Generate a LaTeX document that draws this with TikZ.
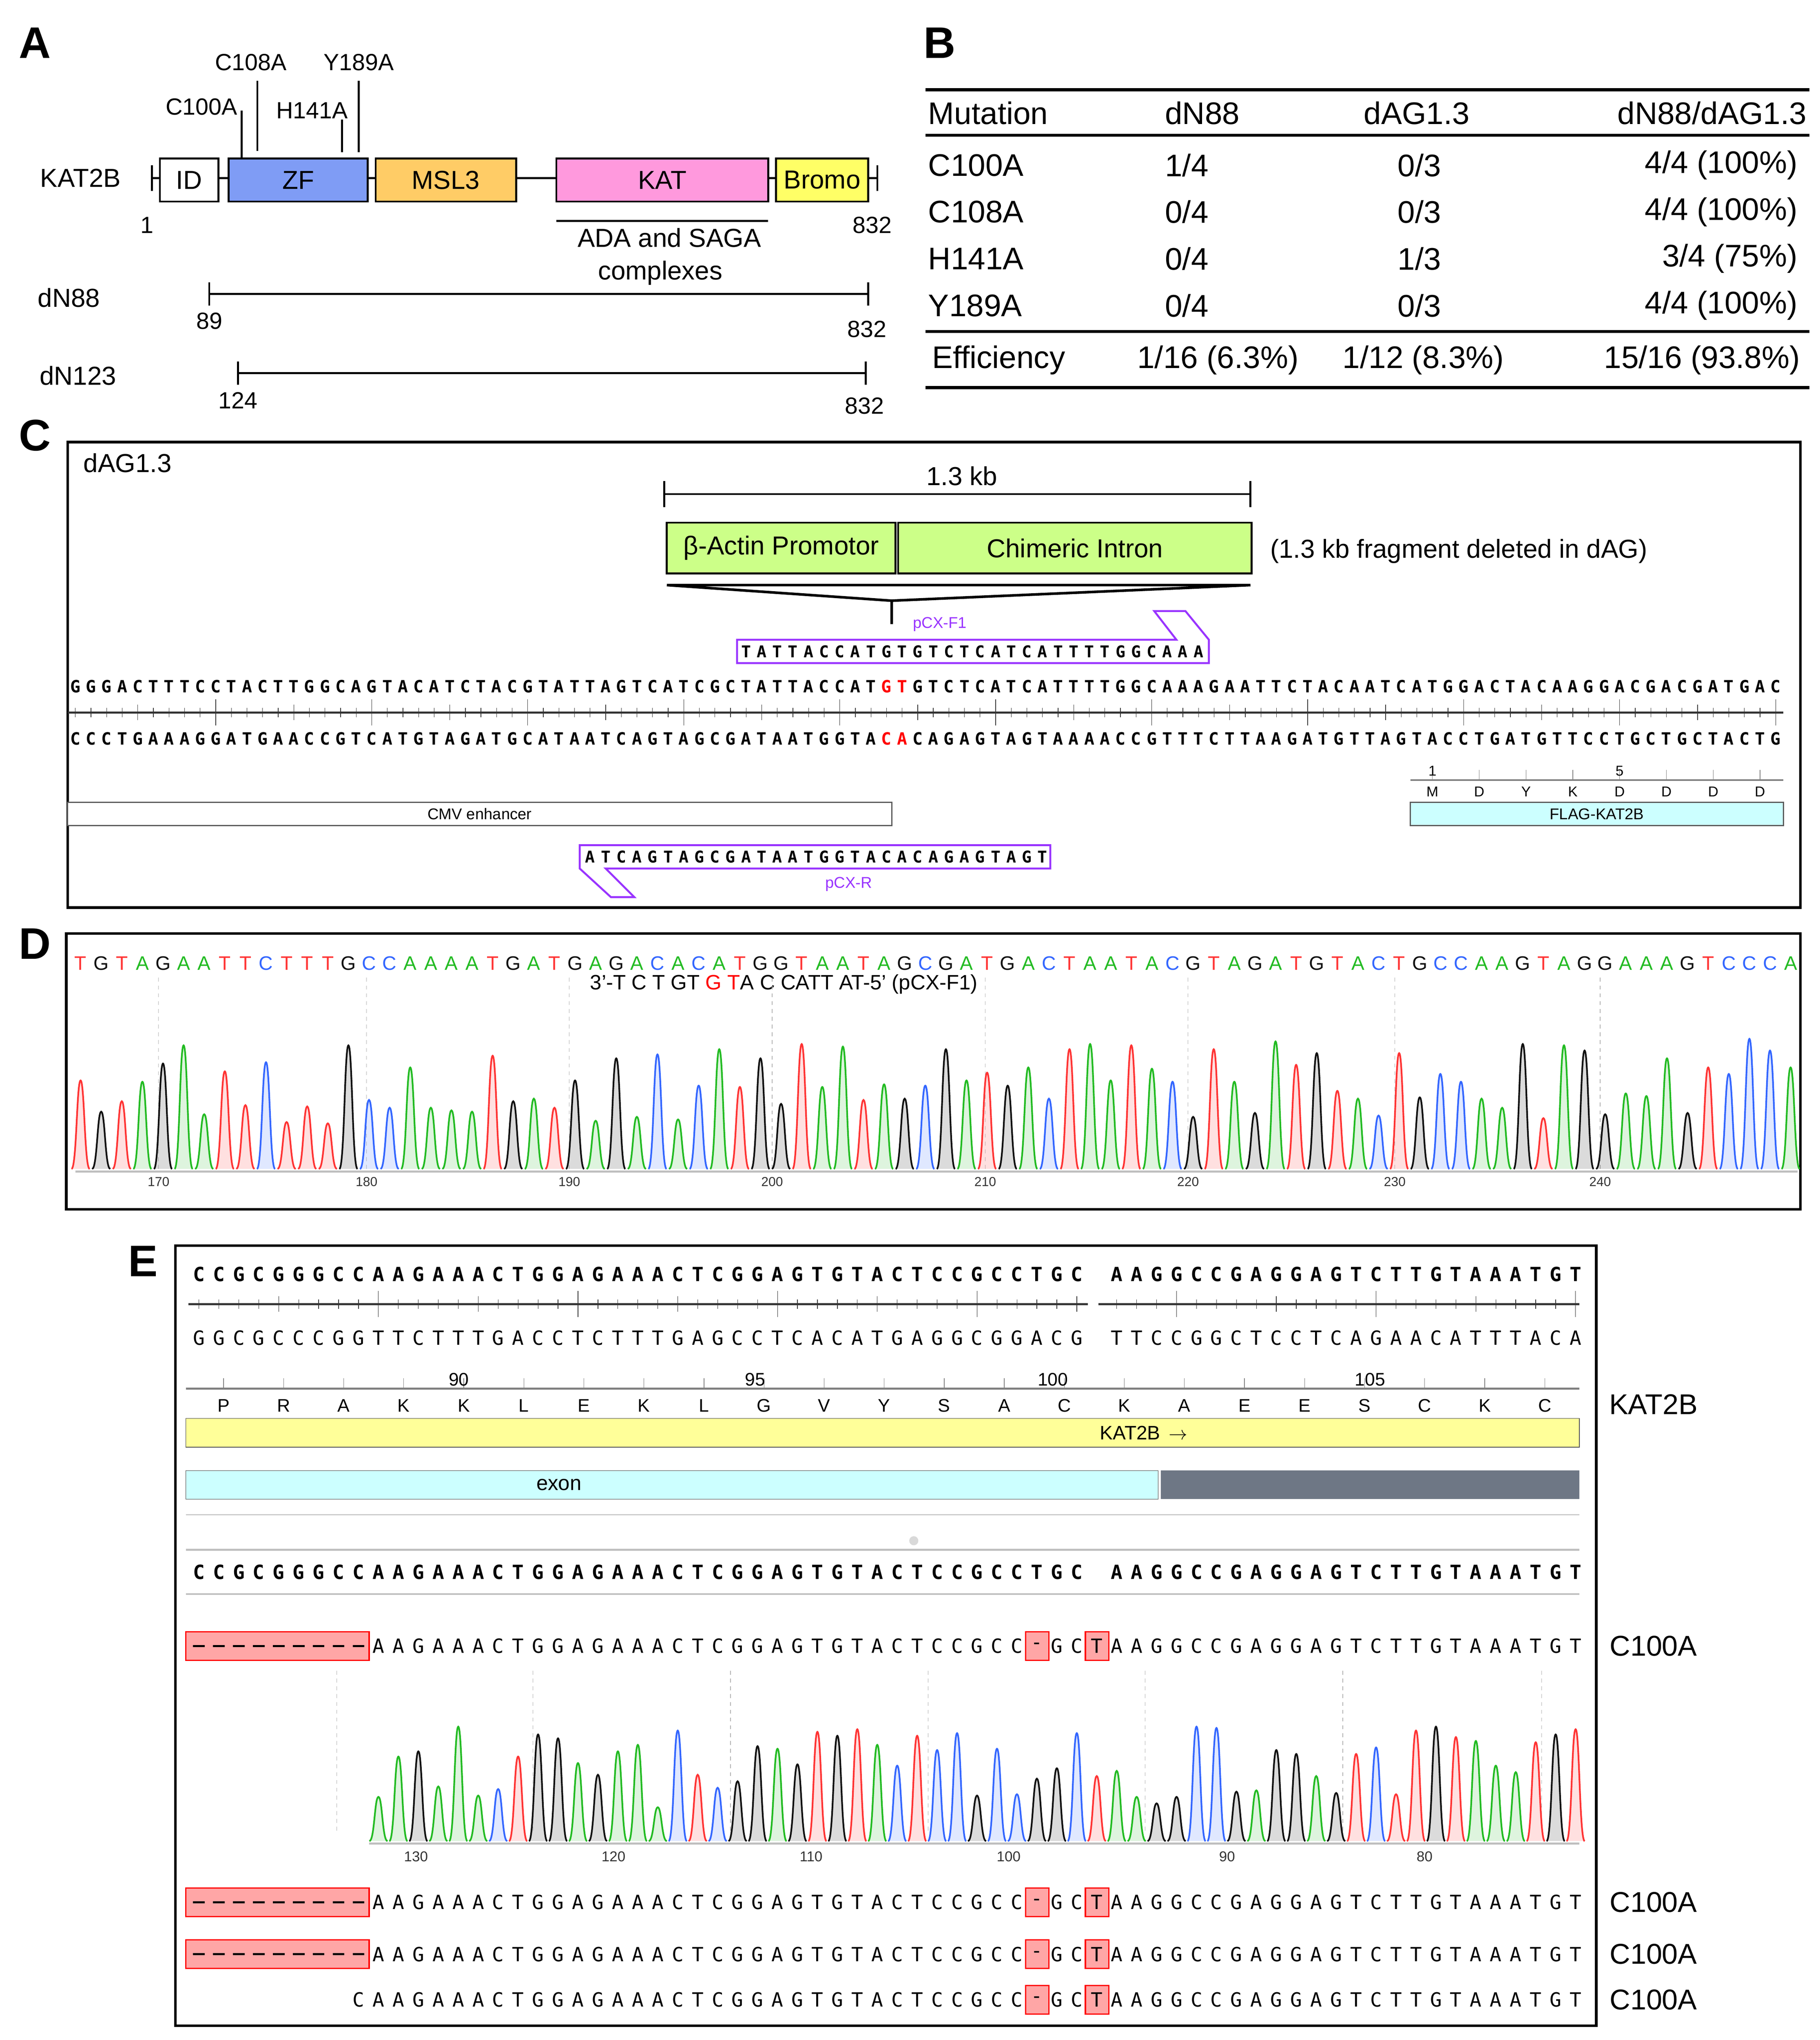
\documentclass[tikz,border=0pt]{standalone}
\usepackage{fontspec}
\setmainfont{Liberation Sans}
\setmonofont{DejaVu Sans Mono}
\definecolor{zf}{HTML}{7F9CF5}
\definecolor{msl}{HTML}{FFCC66}
\definecolor{kat}{HTML}{FF99DD}
\definecolor{bromo}{HTML}{FFFF66}
\definecolor{grn}{HTML}{CCFF88}
\definecolor{prm}{HTML}{9933FF}
\definecolor{cy}{HTML}{CCFFFF}
\definecolor{yel}{HTML}{FFFF99}
\definecolor{slate}{HTML}{6E7785}
\definecolor{pkA}{HTML}{22BB22}
\definecolor{pkC}{HTML}{3366FF}
\definecolor{pkG}{HTML}{111111}
\definecolor{pkT}{HTML}{FF3333}
\makeatletter
\newcommand\seqat[5]{\pgfmathsetmacro\sq@x{#1}\def\sq@y{#2}\def\sq@p{#3}\def\sq@f{#4}\sq@loop#5\relax}
\def\sq@loop#1{\ifx#1\relax\else\sq@char{#1}\expandafter\sq@loop\fi}
\def\sq@char#1{\if#1_\else\node[text=\csname sqc@#1\endcsname,inner sep=0,anchor=center] at (\sq@x,\sq@y){\sq@f\uppercase{#1}};\fi\pgfmathsetmacro\sq@x{\sq@x+\sq@p}}
\newcommand\sqmono{\def\sqc@A{black}\def\sqc@C{black}\def\sqc@G{black}\def\sqc@T{black}}
\newcommand\sqcolor{\def\sqc@A{pkA}\def\sqc@C{pkC}\def\sqc@G{pkG}\def\sqc@T{pkT}}
\def\sqc@a{red}\def\sqc@c{red}\def\sqc@g{red}\def\sqc@t{red}
\expandafter\def\csname sqc@-\endcsname{black}
\makeatother
\newcommand\peak[4]{%
 \fill[#4,opacity=.15] (#1-7,#2) .. controls (#1-3,#2) and (#1-3,#2-#3) .. (#1,#2-#3) .. controls (#1+3,#2-#3) and (#1+3,#2) .. (#1+7,#2) -- cycle;
 \draw[#4,line width=1.3pt] (#1-7,#2) .. controls (#1-3,#2) and (#1-3,#2-#3) .. (#1,#2-#3) .. controls (#1+3,#2-#3) and (#1+3,#2) .. (#1+7,#2);}
\newcommand\fs[1]{\fontsize{#1}{#1}\selectfont}
\tikzset{
 lbl/.style={font=\fs{34}\bfseries,inner sep=0},
 dom/.style={draw,line width=1.5pt,minimum height=33pt,inner sep=0,font=\fs{20}},
 txt/.style={inner sep=0,font=\fs{18}},
 tb/.style={inner sep=0,font=\fs{24}},
 panel/.style={draw,line width=2pt},
 prim/.style={draw=prm,line width=1.5pt},
 small/.style={inner sep=0,font=\fs{11}},
 feat/.style={draw=gray!70!black,line width=1pt},
 red box/.style={draw=red,fill=red!35,line width=1pt},
 gapdash/.style={dash pattern=on 9pt off 6.35pt,line width=1.5pt},
}
\begin{document}
\begin{tikzpicture}[x=1pt,y=-1pt]
\useasboundingbox[fill=white] (0,0) rectangle (1400,1569);
% ---------------- A
\node[lbl] (LA) at (27,33) {A};
\node[txt,font=\fs{20}] (kat2b) at (62,137) {KAT2B};
\draw[line width=1.5pt] (117,137) -- (675,137);
\draw[line width=1.5pt] (117,127) -- (117,147) (675,127) -- (675,147);
\node[dom,fill=white,minimum width=45pt] (id) at (145.5,138.5) {ID};
\node[dom,fill=zf,minimum width=107pt] (zfb) at (229.5,138.5) {ZF};
\node[dom,fill=msl,minimum width=108pt] (msl3) at (343,138.5) {MSL3};
\node[dom,fill=kat,minimum width=163pt] (katb) at (509.5,138.5) {KAT};
\node[dom,fill=bromo,minimum width=71pt] (brb) at (632.5,138.5) {Bromo};
\draw[line width=1.5pt] (186,85) -- (186,122);
\draw[line width=1.5pt] (198,62) -- (198,116);
\draw[line width=1.5pt] (263,92) -- (263,117);
\draw[line width=1.5pt] (276,62) -- (276,117);
\node[txt] (m1) at (155,82) {C100A};
\node[txt] (m2) at (193,48) {C108A};
\node[txt] (m3) at (240,85) {H141A};
\node[txt] (m4) at (276,48) {Y189A};
\node[txt] (n1) at (113,173) {1};
\node[txt] (n832) at (671,173) {832};
\draw[line width=1.5pt] (428,170) -- (591,170);
\node[txt,font=\fs{20}] (ada) at (515,183) {ADA and SAGA};
\node[txt,font=\fs{20}] (cplx) at (508,210) {complexes};
\node[txt,font=\fs{20}] (dn88) at (53,229) {dN88};
\draw[line width=1.5pt] (161,226) -- (668,226) (161,217) -- (161,235) (668,217) -- (668,235);
\node[txt] (a89) at (161,247) {89};
\node[txt] (a832b) at (667,253) {832};
\node[txt,font=\fs{20}] (dn123) at (60,289) {dN123};
\draw[line width=1.5pt] (183,287) -- (666,287) (183,278) -- (183,296) (666,278) -- (666,296);
\node[txt] (a124) at (183,308) {124};
\node[txt] (a832c) at (665,312) {832};
% ---------------- B
\node[lbl] (LB) at (723,33) {B};
\draw[line width=2.5pt] (712,69) -- (1392,69);
\draw[line width=2pt] (712,104) -- (1392,104);
\draw[line width=2pt] (712,255) -- (1392,255);
\draw[line width=2.5pt] (712,298) -- (1392,298);
\node[tb,anchor=west] (h1) at (714,87) {Mutation};
\node[tb] (h2) at (925,87) {dN88};
\node[tb] (h3) at (1090,87) {dAG1.3};
\node[tb,anchor=east] (h4) at (1390,87) {dN88/dAG1.3};
\foreach \m/\a/\b/\c [count=\i] in {C100A/1\slash4/0\slash3/4\slash4 (100\%),C108A/0\slash4/0\slash3/4\slash4 (100\%),H141A/0\slash4/1\slash3/3\slash4 (75\%),Y189A/0\slash4/0\slash3/4\slash4 (100\%)}{
 \node[tb,anchor=west] (r\i a) at (714,91+36*\i) {\m};
 \node[tb] (r\i b) at (913,91+36*\i) {\a};
 \node[tb] (r\i c) at (1092,91+36*\i) {\b};
 \node[tb,anchor=east] (r\i d) at (1383,91+36*\i) {\c};
}
\node[tb,anchor=west] (eff) at (717,277) {Efficiency};
\node[tb] (e1) at (937,277) {1/16 (6.3\%)};
\node[tb] (e2) at (1095,277) {1/12 (8.3\%)};
\node[tb,anchor=east] (e3) at (1385,277) {15/16 (93.8\%)};
% ---------------- C
\node[lbl] (LC) at (27,335) {C};
\draw[panel] (52,340) rectangle (1385,698);
\node[txt,font=\fs{20},anchor=west] (dag) at (64,356) {dAG1.3};
\draw[line width=1.5pt] (511,380) -- (962,380) (511,370) -- (511,390) (962,370) -- (962,390);
\node[txt,font=\fs{20}] (kb) at (740,366) {1.3 kb};
\node[dom,fill=grn,minimum width=176pt,minimum height=39pt] (bact) at (601,421.5) {β-Actin Promotor};
\node[dom,fill=grn,minimum width=272pt,minimum height=39pt] (chim) at (827,421.5) {Chimeric Intron};
\node[txt,font=\fs{20},anchor=west] (del) at (977,424) {(1.3 kb fragment deleted in dAG)};
\draw[line width=2pt] (513,450) -- (962,450) (513,450) -- (686,462) -- (962,450) (686,462) -- (686,480);
\node[small,text=prm,font=\fs{12}] (pf) at (723,480) {pCX-F1};
\draw[prim] (567,492) -- (905,492) -- (888,470) -- (912,470) -- (930,492) -- (930,510) -- (567,510) -- cycle;
\sqmono
\seqat{574}{501}{12}{\fs{12.5}\ttfamily\bfseries}{TATTACCATGTGTCTCATCATTTTGGCAAA}
\seqat{58}{528}{12}{\fs{13}\ttfamily\bfseries}{GGGACTTTCCTACTTGGCAGTACATCTACGTATTAGTCATCGCTATTACCATgtGTCTCATCATTTTGGCAAAGAATTCTACAATCATGGACTACAAGGACGACGATGAC}
\draw[line width=1.5pt,gray!40!black] (52,548) -- (1372,548);
\foreach \k in {0,...,109}{\pgfmathsetmacro\tl{ifthenelse(mod(\k+1,10)==0,10,ifthenelse(mod(\k+1,5)==0,6,3.5))}
 \pgfmathsetmacro\tx{58+12*\k}
 \draw[gray!40!black] (\tx,548-\tl) -- (\tx,548+\tl);}
\seqat{58}{568}{12}{\fs{13}\ttfamily\bfseries}{CCCTGAAAGGATGAACCGTCATGTAGATGCATAATCAGTAGCGATAATGGTAcaCAGAGTAGTAAAACCGTTTCTTAAGATGTTAGTACCTGATGTTCCTGCTGCTACTG}
\draw[line width=1.5pt,gray] (1085,600) -- (1372,600);
\foreach \aa [count=\i] in {M,D,Y,K,D,D,D,D}{
 \pgfmathsetmacro\tx{1066+36*\i}
 \draw[gray] (\tx,592) -- (\tx,600);
 \node[small] (caa\i) at (\tx,609) {\aa};}
\node[small] (c1) at (1102,593) {1};
\node[small] (c5) at (1246,593) {5};
\node[feat,fill=white,minimum width=634pt,minimum height=18pt,inner sep=0,font=\fs{12}] (cmv) at (369,626) {CMV enhancer};
\node[feat,fill=cy,minimum width=287pt,minimum height=18pt,inner sep=0,font=\fs{12}] (flag) at (1228.5,626) {FLAG-KAT2B};
\draw[prim] (446,650) -- (808,650) -- (808,668) -- (466,668) -- (488,690) -- (470,690) -- (446,668) -- cycle;
\seqat{454}{659}{12}{\fs{12.5}\ttfamily\bfseries}{ATCAGTAGCGATAATGGTACACAGAGTAGT}
\node[small,text=prm,font=\fs{12}] (pr) at (653,680) {pCX-R};
% ---------------- D
\node[lbl] (LD) at (27,726) {D};
\draw[panel] (51,718) rectangle (1385,930);
\sqcolor
\seqat{62}{741}{15.85}{\fs{15}}{TGTAGAATTCTTTGCCAAAATGATGAGACACATGGTAATAGCGATGACTAATACGTAGATGTACTGCCAAGTAGGAAAGTCCCA}
\node[txt,font=\fs{16}] (f1) at (603,757) {3'-T C T GT \textcolor{red}{G T}A C CATT AT-5' (pCX-F1)};
\foreach \x/\n in {122/170,282/180,438/190,594/200,758/210,914/220,1073/230,1231/240}{
 \draw[gray!60,dashed] (\x,752) -- (\x,900);
 \node[small,text=gray!40!black,font=\fs{10}] at (\x,909) {\n};}
\draw[gray!50,line width=1.5pt] (58,901) -- (1383,901);
\pgfmathsetseed{11}
\foreach \b [count=\i] in {T,G,T,A,G,A,A,T,T,C,T,T,T,G,C,C,A,A,A,A,T,G,A,T,G,A,G,A,C,A,C,A,T,G,G,T,A,A,T,A,G,C,G,A,T,G,A,C,T,A,A,T,A,C,G,T,A,G,A,T,G,T,A,C,T,G,C,C,A,A,G,T,A,G,G,A,A,A,G,T,C,C,C,A}{
 \pgfmathrandominteger\h{35}{100}
 \pgfmathsetmacro\px{62+(\i-1)*15.85}
 \peak{\px}{899}{\h}{pk\b}}
% ---------------- E
\node[lbl] (LE) at (110,970) {E};
\draw[panel] (135,958) rectangle (1228,1558);
\sqmono
\seqat{153}{980}{15.35}{\fs{15}\ttfamily\bfseries}{CCGCGGGCCAAGAAACTGGAGAAACTCGGAGTGTACTCCGCCTGC_AAGGCCGAGGAGTCTTGTAAATGT}
\draw[line width=1.5pt,gray!40!black] (145,1003) -- (837,1003) (845,1003) -- (1215,1003);
\foreach \k in {0,...,69}{\ifnum\k=45\else\pgfmathsetmacro\tl{ifthenelse(mod(\k+1,10)==0,10,ifthenelse(mod(\k+1,5)==0,6,3.5))}
 \pgfmathsetmacro\tx{153+15.35*\k}
 \draw[gray!40!black] (\tx,1003-\tl) -- (\tx,1003+\tl);\fi}
\seqat{153}{1029}{15.35}{\fs{15}\ttfamily}{GGCGCCCGGTTCTTTGACCTCTTTGAGCCTCACATGAGGCGGACG_TTCCGGCTCCTCAGAACATTTACA}
\draw[line width=1.5pt,gray] (143,1068) -- (1215,1068);
\foreach \aa [count=\i] in {P,R,A,K,K,L,E,K,L,G,V,Y,S,A,C,K,A,E,E,S,C,K,C}{
 \pgfmathsetmacro\ax{172+(\i-1)*46.2}
 \draw[gray] (\ax,1060) -- (\ax,1068);
 \node[small,font=\fs{14}] (eaa\i) at (\ax,1081) {\aa};}
\foreach \x/\n in {353/90,581/95,810/100,1054/105}{\node[small,font=\fs{14}] at (\x,1061) {\n};}
\node[draw=gray!60!black,fill=yel,minimum width=1072pt,minimum height=22pt,inner sep=0] (yb) at (679,1102) {};
\node[small,font=\fs{15}] (kl) at (880,1102) {KAT2B\, $\rightarrow$};
\node[txt,font=\fs{22}] (kat2bE) at (1272,1080) {KAT2B};
\node[draw=gray!60!black,fill=cy,minimum width=748pt,minimum height=22pt,inner sep=0,font=\fs{16}] (exon) at (517,1142) {};
\node[small,font=\fs{16}] (exl) at (430,1142) {exon};
\node[fill=slate,minimum width=322pt,minimum height=22pt,inner sep=0] (ex2) at (1054,1142) {};
\draw[gray!40,line width=1pt] (143,1165) -- (1215,1165);
\fill[gray!30] (703,1185) circle (3.5);
\draw[gray!50,line width=1.5pt] (143,1192) -- (1215,1192);
\seqat{153}{1209}{15.35}{\fs{15}\ttfamily\bfseries}{CCGCGGGCCAAGAAACTGGAGAAACTCGGAGTGTACTCCGCCTGC_AAGGCCGAGGAGTCTTGTAAATGT}
\draw[gray!50,line width=1.5pt] (143,1226) -- (1215,1226);
\foreach \y [count=\r] in {1266,1463,1503}{
 \draw[red box] (143,\y-11) rectangle (284,\y+11);
 \draw[red box] (789,\y-11) rectangle (807,\y+11);
 \draw[red box] (835,\y-11) rectangle (853,\y+11);
 \draw[gapdash] (148.5,\y) -- (282,\y);
 \seqat{153}{\y}{15.35}{\fs{15}\ttfamily}{_________AAGAAACTGGAGAAACTCGGAGTGTACTCCGCC-GCTAAGGCCGAGGAGTCTTGTAAATGT}
 \node[txt,font=\fs{22}] (cl\r) at (1272,\y) {C100A};}
\draw[red box] (789,1527) rectangle (807,1549);
\draw[red box] (835,1527) rectangle (853,1549);
\seqat{153}{1538}{15.35}{\fs{15}\ttfamily}{________CAAGAAACTGGAGAAACTCGGAGTGTACTCCGCC-GCTAAGGCCGAGGAGTCTTGTAAATGT}
\node[txt,font=\fs{22}] (cl4) at (1272,1538) {C100A};
\foreach \x in {259,410,562,714,881,1033,1186}{\draw[gray!60,dashed] (\x,1285) -- (\x,1410);}
\foreach \x/\n in {320/130,472/120,624/110,776/100,944/90,1096/80}{\node[small,text=gray!40!black,font=\fs{11}] at (\x,1428) {\n};}
\draw[gray!50,line width=1.5pt] (284,1418) -- (1215,1418);
\pgfmathsetseed{5}
\foreach \b [count=\i] in {A,A,G,A,A,A,C,T,G,G,A,G,A,A,A,C,T,C,G,G,A,G,T,G,T,A,C,T,C,C,G,C,C,G,G,C,T,A,A,G,G,C,C,G,A,G,G,A,G,T,C,T,T,G,T,A,A,A,T,G,T}{
 \pgfmathrandominteger\h{25}{88}
 \pgfmathsetmacro\px{153+(\i+8)*15.35}
 \peak{\px}{1416}{\h}{pk\b}}
\end{tikzpicture}
\end{document}
